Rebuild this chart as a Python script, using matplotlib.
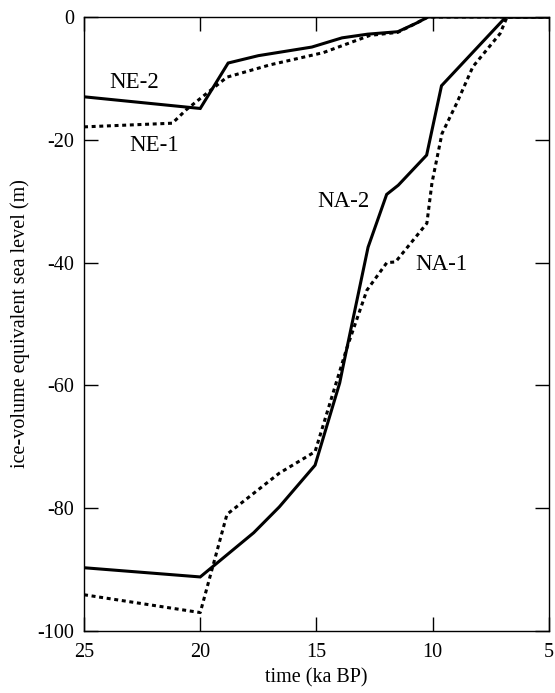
import matplotlib
matplotlib.use("Agg")
import matplotlib.pyplot as plt

plt.rcParams['font.family'] = ['Liberation Serif', 'DejaVu Serif']

# NE-2 (solid)
ne2_t = [25, 20, 18.8, 17.5, 15.2, 13.9, 12.8, 11.5, 10.7, 10.2, 5]
ne2_y = [-13.0, -14.9, -7.5, -6.3, -4.9, -3.4, -2.8, -2.4, -1.0, 0, 0]
# NE-1 (dotted)
ne1_t = [25, 21.2, 20.6, 18.85, 17.0, 14.7, 12.7, 11.5, 10.7, 10.2, 5]
ne1_y = [-17.9, -17.3, -15.1, -9.8, -7.8, -5.8, -3.0, -2.5, -1.0, 0, 0]
# NA-2 (solid)
na2_t = [25, 20, 17.7, 16.6, 15.06, 14.0, 13.86, 12.78, 11.98, 11.48, 10.26, 9.62, 6.85, 5]
na2_y = [-89.7, -91.2, -84.0, -79.8, -73.0, -59.6, -57.0, -37.5, -28.9, -27.4, -22.5, -11.2, 0, 0]
# NA-1 (dotted)
na1_t = [25, 20, 18.85, 16.6, 15.06, 13.7, 12.83, 11.97, 11.6, 10.25, 10.03, 9.6, 8.96, 8.27, 7.1, 6.8, 5]
na1_y = [-94.1, -97.0, -81.0, -74.3, -70.8, -54.0, -44.5, -40.0, -39.9, -33.6, -27.0, -19.0, -14.0, -8.1, -2.7, 0, 0]

xticks = [25, 20, 15, 10, 5]
yticks = [0, -20, -40, -60, -80, -100]

fig = plt.figure(figsize=(5.55, 6.93), dpi=100)
ax = fig.add_axes([0.1514, 0.0895, 0.989 - 0.1514, 0.9755 - 0.0895])

dot = (0, (1.3, 1.2))
ax.plot(ne2_t, ne2_y, color='black', lw=2.2, solid_joinstyle='miter')
ax.plot(ne1_t, ne1_y, color='black', lw=2.2, linestyle=dot)
ax.plot(na2_t, na2_y, color='black', lw=2.2, solid_joinstyle='miter')
ax.plot(na1_t, na1_y, color='black', lw=2.2, linestyle=dot)

ax.set_xlim(25, 5)
ax.set_ylim(-100, 0)
ax.set_xticks(xticks)
ax.set_yticks(yticks)
ax.set_xticklabels([str(v) for v in xticks])
ax.set_yticklabels([str(v) for v in yticks])

ax.tick_params(direction='in', length=10, width=1, top=True, right=True,
               labelsize=14.5)
ax.tick_params(axis='y', pad=7)
ax.tick_params(axis='x', pad=9)
for s in ax.spines.values():
    s.set_linewidth(1.0)

ax.set_xlabel('time (ka BP)', fontsize=14.5, labelpad=4)
ax.set_ylabel('ice-volume equivalent sea level (m)', fontsize=14.5, labelpad=5)

lab = dict(fontsize=16.5, ha='center', va='center')
ax.text(22.85, -10.6, 'NE-2', **lab)
ax.text(21.97, -20.9, 'NE-1', **lab)
ax.text(13.86, -30.1, 'NA-2', **lab)
ax.text(9.64, -40.3, 'NA-1', **lab)

fig.savefig('out.png', dpi=100)
